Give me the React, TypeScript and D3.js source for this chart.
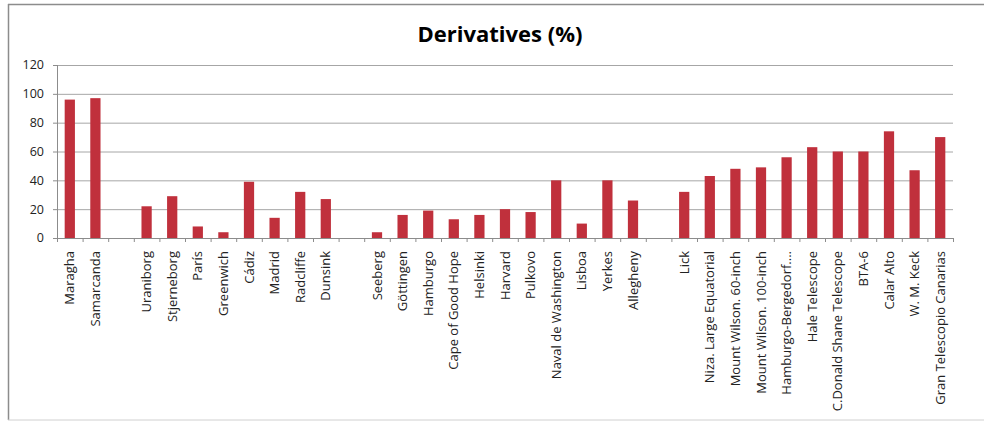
import React from "react";
import * as d3 from "d3";

const categories: string[] = [
  "Maragha", "Samarcanda", "",
  "Uraniborg", "Stjerneborg", "París", "Greenwich", "Cádiz", "Madrid", "Radcliffe", "Dunsink", " ",
  "Seeberg", "Göttingen", "Hamburgo", "Cape of Good Hope", "Helsinki", "Harvard", "Pulkovo",
  "Naval de Washington", "Lisboa", "Yerkes", "Allegheny", "  ",
  "Lick", "Niza. Large Equatorial", "Mount Wilson. 60-inch", "Mount Wilson. 100-inch",
  "Hamburgo-Bergedorf....", "Hale Telescope", "C.Donald Shane Telescope", "BTA-6", "Calar Alto",
  "W. M. Keck", "Gran Telescopio Canarias",
];
const values: (number | null)[] = [
  96, 97, null,
  22, 29, 8, 4, 39, 14, 32, 27, null,
  4, 16, 19, 13, 16, 20, 18, 40, 10, 40, 26, null,
  32, 43, 48, 49, 56, 63, 60, 60, 74, 47, 70,
];
const yTicks: number[] = [0, 20, 40, 60, 80, 100, 120];
const title = "Derivatives (%)";

const W = 984, H = 421;
const M = { left: 57, right: 31, top: 65, bottom: 183 };

export default function App() {
  const x = d3.scaleBand<string>().domain(categories).range([M.left, W - M.right]).paddingInner(0.6).paddingOuter(0.3);
  const bandX = d3.scaleBand<string>().domain(categories).range([M.left, W - M.right]);
  const y = d3.scaleLinear().domain([0, 120]).range([H - M.bottom, M.top]);
  const step = bandX.step();
  const font = "'Open Sans', sans-serif";
  return (
    <svg width={W} height={H} style={{ position: "absolute", left: 0, top: 0, background: "#fff" }}>
      <rect x={0} y={0} width={W} height={H} fill="#fff" />
      <line x1={8.5} y1={4} x2={8.5} y2={420} stroke="#8c8c8c" strokeWidth={1.5} />
      <line x1={8} y1={4.5} x2={W} y2={4.5} stroke="#8c8c8c" strokeWidth={1.5} />
      <line x1={8} y1={420} x2={W} y2={420} stroke="#d0d0d0" strokeWidth={1} />
      <text x={500} y={42} textAnchor="middle" fontFamily={font} fontWeight="bold" fontSize={22} fill="#000">{title}</text>
      {yTicks.map((t) => (
        <g key={t}>
          {t > 0 && <line x1={M.left} x2={W - M.right} y1={y(t) + 0.5} y2={y(t) + 0.5} stroke="#a6a6a6" strokeWidth={1} />}
          <line x1={M.left - 4} x2={M.left} y1={y(t) + 0.5} y2={y(t) + 0.5} stroke="#8c8c8c" />
          <text x={44} y={y(t)} dy="0.35em" textAnchor="end" fontFamily={font} fontSize={12.5} fill="#222">{t}</text>
        </g>
      ))}
      {categories.map((c, i) =>
        values[i] == null ? null : (
          <rect key={"b" + i} x={x(c)!} y={y(values[i] as number)} width={x.bandwidth()} height={y(0) - y(values[i] as number)} fill="#c0303c" />
        )
      )}
      <line x1={M.left + 0.5} x2={M.left + 0.5} y1={M.top} y2={y(0)} stroke="#8c8c8c" />
      <line x1={M.left} x2={W - M.right} y1={y(0) + 0.5} y2={y(0) + 0.5} stroke="#8c8c8c" />
      {d3.range(categories.length + 1).map((i) => (
        <line key={"t" + i} x1={M.left + i * step + 0.5} x2={M.left + i * step + 0.5} y1={y(0)} y2={y(0) + 4} stroke="#8c8c8c" />
      ))}
      {categories.map((c, i) => {
        const cx = bandX(c)! + step / 2;
        const ty = y(0) + 13;
        return (
          <text key={"l" + i} transform={`translate(${cx},${ty}) rotate(-90)`} dy="0.35em" textAnchor="end" fontFamily={font} fontSize={13} fill="#222">{c.trim()}</text>
        );
      })}
    </svg>
  );
}
